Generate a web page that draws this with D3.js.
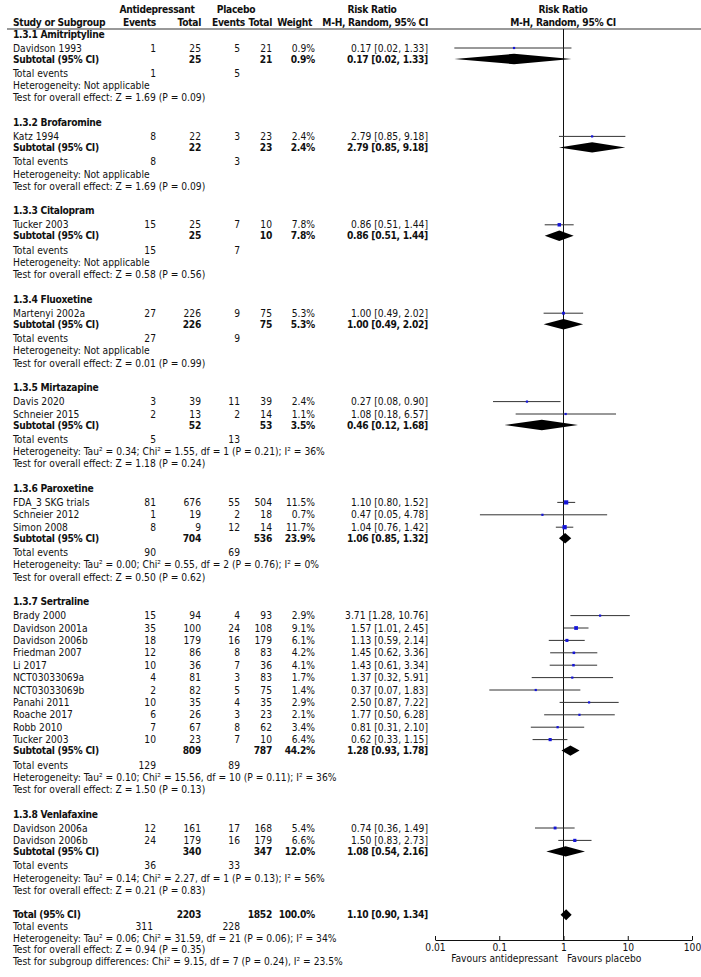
<!DOCTYPE html>
<html><head><meta charset="utf-8">
<script src="https://cdn.jsdelivr.net/npm/d3@7"></script>
<style>
body{margin:0;background:#fff}
svg text{font-family:"DejaVu Sans Condensed","DejaVu Sans",sans-serif;font-size:10.2px;fill:#111}
svg text.b{font-weight:bold;letter-spacing:-0.3px}
</style>
</head><body><svg id="c" width="701" height="977"></svg>
<script>
// ---------- DATA ----------
const groupNames = ["1.3.1 Amitriptyline","1.3.2 Brofaromine","1.3.3 Citalopram","1.3.4 Fluoxetine","1.3.5 Mirtazapine","1.3.6 Paroxetine","1.3.7 Sertraline","1.3.8 Venlafaxine"];
const studyGroup = [0,1,2,3,4,4,5,5,5,6,6,6,6,6,6,6,6,6,6,6,7,7];
const studyNames = ["Davidson 1993","Katz 1994","Tucker 2003","Martenyi 2002a","Davis 2020","Schneier 2015","FDA_3 SKG trials","Schneier 2012","Simon 2008","Brady 2000","Davidson 2001a","Davidson 2006b","Friedman 2007","Li 2017","NCT03033069a","NCT03033069b","Panahi 2011","Roache 2017","Robb 2010","Tucker 2003","Davidson 2006a","Davidson 2006b"];
const eventsA = [1,8,15,27,3,2,81,1,8,15,35,18,12,10,4,2,10,6,7,10,12,24];
const totalA  = [25,22,25,226,39,13,676,19,9,94,100,179,86,36,81,82,35,26,67,23,161,179];
const eventsP = [5,3,7,9,11,2,55,2,12,4,24,16,8,7,3,5,4,3,8,7,17,16];
const totalP  = [21,23,10,75,39,14,504,18,14,93,108,179,83,36,83,75,35,23,62,10,168,179];
const weight  = [0.9,2.4,7.8,5.3,2.4,1.1,11.5,0.7,11.7,2.9,9.1,6.1,4.2,4.1,1.7,1.4,2.9,2.1,3.4,6.4,5.4,6.6];
const rr      = [0.17,2.79,0.86,1.00,0.27,1.08,1.10,0.47,1.04,3.71,1.57,1.13,1.45,1.43,1.37,0.37,2.50,1.77,0.81,0.62,0.74,1.50];
const rrLo    = [0.02,0.85,0.51,0.49,0.08,0.18,0.80,0.05,0.76,1.28,1.01,0.59,0.62,0.61,0.32,0.07,0.87,0.50,0.31,0.33,0.36,0.83];
const rrHi    = [1.33,9.18,1.44,2.02,0.90,6.57,1.52,4.78,1.42,10.76,2.45,2.14,3.36,3.34,5.91,1.83,7.22,6.28,2.10,1.15,1.49,2.73];

const subTotalA = [25,22,25,226,52,704,809,340];
const subTotalP = [21,23,10,75,53,536,787,347];
const subWeight = [0.9,2.4,7.8,5.3,3.5,23.9,44.2,12.0];
const subRR     = [0.17,2.79,0.86,1.00,0.46,1.06,1.28,1.08];
const subLo     = [0.02,0.85,0.51,0.49,0.12,0.85,0.93,0.54];
const subHi     = [1.33,9.18,1.44,2.02,1.68,1.32,1.78,2.16];
const subEventsA = [1,8,15,27,5,90,129,36];
const subEventsP = [5,3,7,9,13,69,89,33];
const subHet = ["Not applicable","Not applicable","Not applicable","Not applicable",
  "Tau² = 0.34; Chi² = 1.55, df = 1 (P = 0.21); I² = 36%",
  "Tau² = 0.00; Chi² = 0.55, df = 2 (P = 0.76); I² = 0%",
  "Tau² = 0.10; Chi² = 15.56, df = 10 (P = 0.11); I² = 36%",
  "Tau² = 0.14; Chi² = 2.27, df = 1 (P = 0.13); I² = 56%"];
const subTest = ["Z = 1.69 (P = 0.09)","Z = 1.69 (P = 0.09)","Z = 0.58 (P = 0.56)","Z = 0.01 (P = 0.99)","Z = 1.18 (P = 0.24)","Z = 0.50 (P = 0.62)","Z = 1.50 (P = 0.13)","Z = 0.21 (P = 0.83)"];

const overallTotals = [2203,1852];
const overallWeight = 100.0;
const overallRR = [1.10,0.90,1.34];
const overallEvents = [311,228];
const overallHet = "Tau² = 0.06; Chi² = 31.59, df = 21 (P = 0.06); I² = 34%";
const overallTest = "Z = 0.94 (P = 0.35)";
const subgroupTest = "Chi² = 9.15, df = 7 (P = 0.24), I² = 23.5%";

const tickValues = [0.01,0.1,1,10,100];
const tickLabels = ["0.01","0.1","1","10","100"];

// ---------- LAYOUT ----------
const svg = d3.select("#c");
const X = {left:13, evA:156, totA:201, evP:240, totP:272, w:315, rr:428};
const x = d3.scaleLog().domain([0.01,100]).range([435,692]);
const sq = d3.scaleSqrt().domain([0,12]).range([0,4.3]);
const fmt2 = d3.format(".2f");
const ciStr = (a,b,c)=>`${fmt2(a)} [${fmt2(b)}, ${fmt2(c)}]`;
const pct = v=>d3.format(".1f")(v)+"%";

function txt(xp,y,s,anchor="start",bold=false){
  return svg.append("text").attr("x",xp).attr("y",y).attr("dy","0.35em")
    .attr("class",bold?"b":null)
    .attr("text-anchor",anchor).text(s);
}

// header
txt(157,9,"Antidepressant","middle",true);
txt(236,9,"Placebo","middle",true);
txt(372,9,"Risk Ratio","middle",true);
txt(563,9,"Risk Ratio","middle",true);
txt(X.left,22,"Study or Subgroup","start",true);
txt(X.evA,22,"Events","end",true);
txt(X.totA,22,"Total","end",true);
txt(245,22,"Events","end",true);
txt(X.totP,22,"Total","end",true);
txt(312,22,"Weight","end",true);
txt(X.rr,22,"M-H, Random, 95% CI","end",true);
txt(563,22,"M-H, Random, 95% CI","middle",true);
svg.append("line").attr("x1",7).attr("x2",701).attr("y1",29).attr("y2",29)
  .attr("stroke","#999").attr("stroke-width",2);

const axisY = 940;
svg.append("line").attr("x1",x(1)).attr("x2",x(1)).attr("y1",29).attr("y2",axisY)
  .attr("stroke","#111").attr("stroke-width",1);

function diamond(y,r,lo,hi,h=5.2){
  svg.append("path").attr("d",`M${x(lo)},${y} L${x(r)},${y-h} L${x(hi)},${y} L${x(r)},${y+h} Z`)
    .attr("fill","#000");
}

let y = 34;
groupNames.forEach((g,gi)=>{
  txt(X.left,y,g,"start",true);
  y += 14;
  const idx = studyGroup.map((v,i)=>v===gi?i:-1).filter(i=>i>=0);
  idx.forEach((i,k)=>{
    if(k>0) y += 12.4;
    txt(X.left,y,studyNames[i]);
    txt(X.evA,y,eventsA[i],"end");
    txt(X.totA,y,totalA[i],"end");
    txt(X.evP,y,eventsP[i],"end");
    txt(X.totP,y,totalP[i],"end");
    txt(X.w,y,pct(weight[i]),"end");
    txt(X.rr,y,ciStr(rr[i],rrLo[i],rrHi[i]),"end");
    svg.append("line").attr("x1",x(rrLo[i])).attr("x2",x(rrHi[i])).attr("y1",y).attr("y2",y)
      .attr("stroke","#333").attr("stroke-width",1);
    const s = Math.max(2.2,sq(weight[i]));
    svg.append("rect").attr("x",x(rr[i])-s/2).attr("y",y-s/2).attr("width",s).attr("height",s)
      .attr("fill","#1515d8");
  });
  y += 11;
  txt(X.left,y,"Subtotal (95% CI)","start",true);
  txt(X.totA,y,subTotalA[gi],"end",true);
  txt(X.totP,y,subTotalP[gi],"end",true);
  txt(X.w,y,pct(subWeight[gi]),"end",true);
  txt(X.rr,y,ciStr(subRR[gi],subLo[gi],subHi[gi]),"end",true);
  diamond(y,subRR[gi],subLo[gi],subHi[gi]);
  y += 14.5;
  txt(X.left,y,"Total events");
  txt(X.evA,y,subEventsA[gi],"end");
  txt(X.evP,y,subEventsP[gi],"end");
  y += 12.2;
  txt(X.left,y,"Heterogeneity: "+subHet[gi]);
  y += 12.2;
  txt(X.left,y,"Test for overall effect: "+subTest[gi]);
  y += 24.5;
});

// overall
txt(X.left,y,"Total (95% CI)","start",true);
txt(X.totA,y,overallTotals[0],"end",true);
txt(X.totP,y,overallTotals[1],"end",true);
txt(X.w,y,pct(overallWeight),"end",true);
txt(X.rr,y,ciStr(overallRR[0],overallRR[1],overallRR[2]),"end",true);
diamond(y,overallRR[0],overallRR[1],overallRR[2],5.5);
y += 11.3;
txt(X.left,y,"Total events");
txt(X.evA-3,y,overallEvents[0],"end");
txt(X.evP,y,overallEvents[1],"end");
y += 12;
txt(X.left,y,"Heterogeneity: "+overallHet);
y += 11.7;
txt(X.left,y,"Test for overall effect: "+overallTest);
y += 11.3;
txt(X.left,y,"Test for subgroup differences: "+subgroupTest);

// axis
const ax = d3.axisBottom(x).tickValues(tickValues)
  .tickFormat((d,i)=>tickLabels[i]).tickSizeInner(-4).tickSizeOuter(0).tickPadding(4);
const g = svg.append("g").attr("transform",`translate(0,${axisY})`).call(ax);
g.attr("font-family",null).attr("font-size",null);
g.select(".domain").attr("stroke","#111");
g.selectAll(".tick line").attr("stroke","#111");
g.selectAll(".tick text").attr("fill","#111");
txt(558,958,"Favours antidepressant","end");
txt(567,958,"Favours placebo","start");
</script></body></html>
